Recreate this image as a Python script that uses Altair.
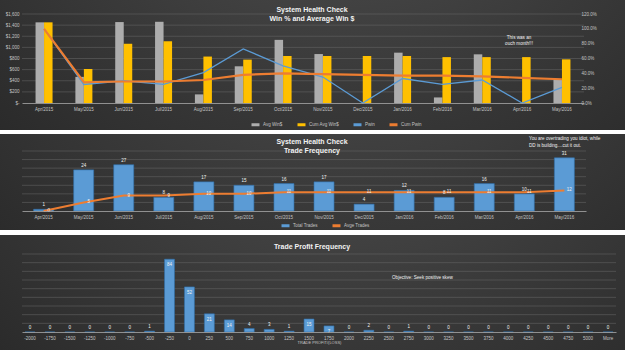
import altair as alt
import pandas as pd

FONT = "Liberation Sans"
TICK = "#c4c4c4"
GRID = "#6a6a6a"
GRAY = "#adadad"
YELLOW = "#ffc000"
BLUE = "#5b9bd5"
ORANGE = "#ed7d31"

# ---- monthly system health data ----
months = ["Apr/2015", "May/2015", "Jun/2015", "Jul/2015", "Aug/2015", "Sep/2015",
          "Oct/2015", "Nov/2015", "Dec/2015", "Jan/2016", "Feb/2016", "Mar/2016",
          "Apr/2016", "May/2016"]
month_order = list(range(len(months)))
avg_win = [1450, 470, 1455, 1460, 155, 660, 1135, 880, 0, 905, 100, 875, 0, 415]
cum_avg_win = [1450, 610, 1065, 1110, 835, 780, 845, 845, 845, 845, 825, 825, 825, 785]
pwin = [1.00, 0.25, 0.30, 0.25, 0.41, 0.73, 0.50, 0.35, 0.00, 0.33, 0.25, 0.31, 0.00, 0.21]
cum_pwin = [1.00, 0.28, 0.29, 0.29, 0.31, 0.38, 0.40, 0.39, 0.38, 0.37, 0.37, 0.36, 0.34, 0.32]

total_trades = [1, 24, 27, 8, 17, 15, 16, 17, 4, 12, 8, 16, 10, 31]
avge_trades = [0, 5, 9, 9, 10, 10, 11, 11, 11, 11, 11, 11, 11, 12]

# ---- trade profit histogram ----
profit_bins = ["-2000", "-1750", "-1500", "-1250", "-1000", "-750", "-500", "-250",
               "0", "250", "500", "750", "1000", "1250", "1500", "1750", "2000",
               "2250", "2500", "2750", "3000", "3250", "3500", "3750", "4000",
               "4250", "4500", "4750", "5000", "More"]
profit_freq = [0, 0, 0, 0, 0, 0, 1, 84, 52, 21, 14, 4, 3, 1, 15, 7, 0,
               2, 0, 1, 0, 0, 0, 0, 0, 0, 0, 0, 0, 0]

# ---- axis tick values ----
dollar_ticks = [0, 200, 400, 600, 800, 1000, 1200, 1400, 1600]
pct_ticks = [0, 0.2, 0.4, 0.6, 0.8, 1.0, 1.2]
trade_ticks = [0, 5, 10, 15, 20, 25, 30, 35]
freq_ticks = [0, 10, 20, 30, 40, 50, 60, 70, 80, 90]

win_title = ["System Health Check", "Win % and Average Win $"]
freq_title = ["System Health Check", "Trade Frequency"]
profit_title = ["Trade Profit Frequency"]
ouch_note = ["This was an", "ouch month!!!"]
overtrade_note = ["You are overtrading you idiot, while", "DD is building....cut it out."]
skew_note = ["Objective: Seek positive skew"]

win_series = ["Avg Win$", "Cum Avg Win$"]
pct_series = ["Pwin", "Cum Pwin"]
trade_series = ["Total Trades", "Avge Trades"]

LEFT = 22  # plot-area offset from the panel's left edge
TOTAL_W = 625

PANEL_FILL = alt.RadialGradient(
    gradient="radial",
    stops=[alt.GradientStop(color="#5a5a5a", offset=0),
           alt.GradientStop(color="#3a3a3a", offset=0.5),
           alt.GradientStop(color="#1e1e1e", offset=1)],
    x1=0.55, y1=0.0, r1=0, x2=0.55, y2=0.0, r2=1.05,
)


def backdrop(w, h, top, bottom):
    """Dark panel behind a chart, covering axes, titles and legend."""
    return alt.Chart(alt.Data(values=[{}])).mark_rect(fill=PANEL_FILL).encode(
        x=alt.value(-LEFT), x2=alt.value(TOTAL_W - LEFT),
        y=alt.value(-top), y2=alt.value(h + bottom),
    )


def gridlines(ticks, scale):
    """Horizontal reference lines at the value-axis ticks."""
    return alt.Chart(pd.DataFrame({"tick": ticks[1:]})).mark_rule(
        color=GRID, strokeWidth=0.5
    ).encode(y=alt.Y("tick:Q", scale=scale, axis=None))


def caption(lines, x, y, size=4.6, bold=False, align="left", line_height=6.5):
    return alt.Chart(alt.Data(values=[{}])).mark_text(
        text=lines, align=align, baseline="top", fontSize=size,
        fontWeight="bold" if bold else "normal", lineHeight=line_height,
        color="#f2f2f2", font=FONT,
    ).encode(x=alt.value(x), y=alt.value(y))


def band_axis(**kw):
    return alt.Axis(labelAngle=0, labelFontSize=4.5, labelColor=TICK, labelFont=FONT,
                    ticks=False, domainColor="#a8a8a8", domainWidth=0.8,
                    labelPadding=3, labelOverlap=False, zindex=1, **kw)


def value_axis(values, pad=3, **kw):
    return alt.Axis(values=values, grid=False, domain=False, ticks=False,
                    labelFontSize=4.5, labelColor=TICK, labelFont=FONT,
                    labelPadding=pad, zindex=1, **kw)


def legend_at(x, y):
    return alt.Legend(title=None, orient="none", legendX=x, legendY=y,
                      direction="horizontal", symbolType="stroke", symbolStrokeWidth=3,
                      symbolSize=64, labelFontSize=4.5, labelColor=TICK, labelFont=FONT,
                      columnPadding=8, labelOffset=2)


# ================= Panel 1: Win % and Average Win $ =================
W1, H1, T1, B1 = 562, 89, 14, 27
win_df = pd.DataFrame({
    "month": months * 2,
    "series": [win_series[0]] * len(months) + [win_series[1]] * len(months),
    "dollars": avg_win + cum_avg_win,
})
pct_df = pd.DataFrame({
    "month": months * 2,
    "idx": month_order * 2,
    "series": [pct_series[0]] * len(months) + [pct_series[1]] * len(months),
    "rate": pwin + cum_pwin,
})

dollar_scale = alt.Scale(domain=[0, 1600], nice=False)
color1 = alt.Color("series:N",
                   scale=alt.Scale(domain=win_series + pct_series,
                                   range=[GRAY, YELLOW, BLUE, ORANGE]),
                   legend=legend_at(228, 105))
x1 = alt.X("month:N", sort=months, title=None,
           scale=alt.Scale(paddingInner=0.573, paddingOuter=0.34), axis=band_axis())

bars1 = alt.Chart(win_df).mark_bar().encode(
    x=x1,
    xOffset=alt.XOffset("series:N", sort=win_series,
                        scale=alt.Scale(paddingInner=0, paddingOuter=0)),
    y=alt.Y("dollars:Q", title=None, scale=dollar_scale,
            axis=value_axis(dollar_ticks,
                            labelExpr="datum.value == 0 ? '$-' : '$' + format(datum.value, ',')")),
    color=color1,
)
lines1 = alt.Chart(pct_df).mark_line().encode(
    x=x1,
    y=alt.Y("rate:Q", title=None, scale=alt.Scale(domain=[0, 1.2], nice=False),
            axis=value_axis(pct_ticks, pad=-3, orient="right", format=".1%")),
    color=color1,
    strokeWidth=alt.StrokeWidth("series:N", legend=None,
                                scale=alt.Scale(domain=pct_series, range=[1.3, 2.2])),
    order=alt.Order("idx:Q"),
)

panel1 = alt.layer(
    backdrop(W1, H1, T1, B1), gridlines(dollar_ticks, dollar_scale), bars1, lines1,
    caption(win_title, 290, -8.5, size=7, bold=True, align="center", line_height=9),
    caption(ouch_note, 497, 20.5, align="center", line_height=6),
).resolve_scale(y="independent").properties(width=W1, height=H1)

# ================= Panel 2: Trade Frequency =================
W2, H2, T2, B2 = 564, 60, 17, 19
trade_df = pd.DataFrame({
    "month": months,
    "idx": month_order,
    "total": total_trades,
    "avge": avge_trades,
    "bar_series": trade_series[0],
    "line_series": trade_series[1],
})
scale2 = alt.Scale(domain=trade_series, range=[BLUE, ORANGE])
x2 = alt.X("month:N", sort=months, title=None,
           scale=alt.Scale(paddingInner=0.5, paddingOuter=0.29), axis=band_axis())
y2_scale = alt.Scale(domain=[0, 35], nice=False)

base2 = alt.Chart(trade_df)
bars2 = base2.mark_bar(stroke="#2f6eaa", strokeWidth=0.6).encode(
    x=x2, y=alt.Y("total:Q", title=None, scale=y2_scale, axis=value_axis(trade_ticks)),
    color=alt.Color("bar_series:N", scale=scale2, legend=legend_at(258, 69)),
)
line2 = base2.mark_line(strokeWidth=2).encode(
    x=x2, y=alt.Y("avge:Q", scale=y2_scale),
    color=alt.Color("line_series:N", scale=scale2, legend=legend_at(258, 69)),
    order=alt.Order("idx:Q"),
)
bar_labels2 = base2.mark_text(baseline="bottom", dy=-2, fontSize=4.5, color="#f2f2f2",
                              font=FONT).encode(x=x2, y=alt.Y("total:Q", scale=y2_scale),
                                                text="total:Q")
line_labels2 = base2.mark_text(baseline="middle", dx=5, fontSize=4.5, color="#f2f2f2",
                               font=FONT).encode(x=x2, y=alt.Y("avge:Q", scale=y2_scale),
                                                 text="avge:Q")

panel2 = alt.layer(
    backdrop(W2, H2, T2, B2), gridlines(trade_ticks, y2_scale), bars2, line2,
    bar_labels2, line_labels2,
    caption(freq_title, 290, -13.5, size=7, bold=True, align="center", line_height=9),
    caption(overtrade_note, 507, -15.5, line_height=7),
).properties(width=W2, height=H2)

# ================= Panel 3: Trade Profit Frequency =================
W3, H3, T3, B3 = 594, 78, 19, 21
profit_df = pd.DataFrame({"bin": profit_bins, "freq": profit_freq})
x3 = alt.X("bin:N", sort=profit_bins,
           scale=alt.Scale(paddingInner=0.5, paddingOuter=0.15),
           axis=band_axis(title="TRADE PROFIT/(LOSS)", titleFontSize=4, titleColor=TICK,
                          titleFont=FONT, titleFontWeight="normal", titlePadding=1))
y3_scale = alt.Scale(domain=[0, 90], nice=False)
base3 = alt.Chart(profit_df)
bars3 = base3.mark_bar(color=BLUE, stroke="#2f6eaa", strokeWidth=0.6).encode(
    x=x3,
    y=alt.Y("freq:Q", scale=y3_scale,
            axis=value_axis(freq_ticks, title="FREQUENCY", titleFontSize=4.5,
                            titleColor=TICK, titleFont=FONT, titleFontWeight="normal",
                            titlePadding=3)),
)
labels_in3 = base3.transform_filter(alt.datum.freq >= 5).mark_text(
    baseline="top", dy=3, fontSize=4.5, color="#f2f2f2", font=FONT
).encode(x=x3, y=alt.Y("freq:Q", scale=y3_scale), text="freq:Q")
labels_out3 = base3.transform_filter(alt.datum.freq < 5).mark_text(
    baseline="bottom", dy=-2, fontSize=4.5, color="#f2f2f2", font=FONT
).encode(x=x3, y=alt.Y("freq:Q", scale=y3_scale), text="freq:Q")

panel3 = alt.layer(
    backdrop(W3, H3, T3, B3), gridlines(freq_ticks, y3_scale), bars3,
    labels_in3, labels_out3,
    caption(profit_title, 290, -11.5, size=7, bold=True, align="center"),
    caption(skew_note, 370, 20.5),
).properties(width=W3, height=H3)

chart = alt.vconcat(panel1, panel2, panel3, spacing=3).resolve_scale(
    color="independent", strokeWidth="independent"
).properties(
    background="white", padding=0
).configure(font=FONT).configure_view(stroke=None)

chart.save("out.html", embed_options={"renderer": "svg", "actions": False})
